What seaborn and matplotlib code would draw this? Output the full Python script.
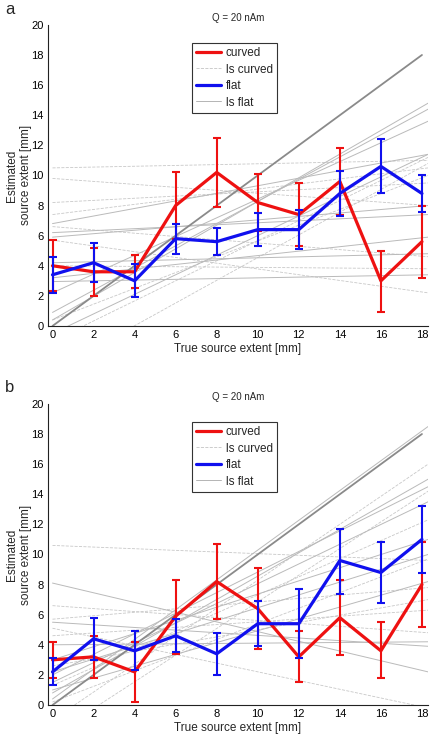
import pandas as pd
import matplotlib.pyplot as plt
import seaborn as sns
import numpy as np
from matplotlib.lines import Line2D

# true source extent [mm]
extent = [0, 2, 4, 6, 8, 10, 12, 14, 16, 18]

# panel a
a_curved = [4.0, 3.6, 3.6, 8.0, 10.2, 8.2, 7.4, 9.6, 3.0, 5.6]
a_curved_lo = [2.3, 2.0, 2.5, 5.8, 7.9, 6.3, 5.3, 7.4, 0.9, 3.2]
a_curved_hi = [5.7, 5.2, 4.7, 10.2, 12.5, 10.1, 9.5, 11.8, 5.0, 8.0]
a_flat = [3.4, 4.2, 3.0, 5.8, 5.6, 6.4, 6.4, 8.8, 10.6, 8.8]
a_flat_lo = [2.2, 2.9, 1.9, 4.8, 4.7, 5.3, 5.1, 7.3, 8.8, 7.6]
a_flat_hi = [4.6, 5.5, 4.1, 6.8, 6.5, 7.5, 7.7, 10.3, 12.4, 10.0]
# least squares fits: value at left edge (x=0) and right edge of axis
a_ls_curved_start = [10.5, 9.8, 8.2, 7.4, 6.6, 5.7, 4.0, -1.0, -3.0, 0.4]
a_ls_curved_end = [11.0, 8.0, 9.5, 10.5, 4.6, 2.2, 3.8, 11.2, 10.8, 10.0]
a_ls_flat_start = [6.8, 5.9, 2.95, 2.2, 0.9, 0.4, 4.2, 3.2, -0.5, 6.2]
a_ls_flat_end = [11.4, 8.0, 3.4, 13.6, 14.4, 14.8, 4.8, 5.9, 11.4, 7.4]

# panel b
b_curved = [3.0, 3.2, 2.2, 5.9, 8.2, 6.4, 3.2, 5.8, 3.6, 8.0]
b_curved_lo = [1.8, 1.8, 0.2, 3.4, 5.7, 3.7, 1.5, 3.3, 1.8, 5.2]
b_curved_hi = [4.2, 4.6, 4.2, 8.3, 10.7, 9.1, 4.9, 8.3, 5.5, 10.8]
b_flat = [2.2, 4.4, 3.6, 4.6, 3.4, 5.4, 5.4, 9.6, 8.8, 11.0]
b_flat_lo = [1.3, 3.0, 2.3, 3.5, 2.0, 3.9, 3.1, 7.4, 6.8, 8.8]
b_flat_hi = [3.1, 5.8, 4.9, 5.7, 4.8, 6.9, 7.7, 11.7, 10.8, 13.2]
b_ls_curved_start = [10.6, 6.6, 5.7, 5.1, 2.6, 1.3, -1.0, 0.2, 4.6, -2.0]
b_ls_curved_end = [9.6, 4.8, 7.8, -0.2, 7.0, 12.3, 16.0, 9.7, 6.3, 14.2]
b_ls_flat_start = [8.1, 5.5, 0.4, 0.8, 2.0, 1.5, 4.0, 3.0, 2.2, 1.0]
b_ls_flat_end = [2.2, 3.9, 18.5, 15.0, 14.5, 13.5, 4.2, 11.0, 10.0, 8.2]

X_LEFT, X_RIGHT = -0.22, 18.3


def fits_frame(starts, ends):
    rows = []
    for i, (s, e) in enumerate(zip(starts, ends)):
        rows.append({'fit': i, 'x': 0, 'y': s})
        rows.append({'fit': i, 'x': X_RIGHT, 'y': e})
    return pd.DataFrame(rows)


def draw_panel(ax, curved, c_lo, c_hi, flat, f_lo, f_hi,
               lsc_s, lsc_e, lsf_s, lsf_e):
    sns.lineplot(data=fits_frame(lsc_s, lsc_e), x='x', y='y', units='fit',
                 estimator=None, color='#c8c8c8', lw=0.6, ls='--', ax=ax, legend=False)
    sns.lineplot(data=fits_frame(lsf_s, lsf_e), x='x', y='y', units='fit',
                 estimator=None, color='#bababa', lw=0.7, ax=ax, legend=False)
    sns.lineplot(x=[0, 18], y=[0, 18], color='#8a8a8a', lw=1.3, ax=ax)

    for vals, lo, hi, col in [(curved, c_lo, c_hi, '#ee1111'), (flat, f_lo, f_hi, '#1010ee')]:
        v = np.array(vals)
        err = [v - np.array(lo), np.array(hi) - v]
        ax.errorbar(extent, v, yerr=err, fmt='none', ecolor=col, elinewidth=1.5,
                    capsize=3, capthick=1.5)
        sns.lineplot(x=extent, y=vals, color=col, lw=2.3, ax=ax)

    ax.set_xlim(X_LEFT, X_RIGHT)
    ax.set_ylim(0, 20)
    ax.set_xticks(extent)
    ax.set_yticks(range(0, 21, 2))
    ax.tick_params(direction='in', length=3, width=0.7, labelsize=8, pad=3, colors='black')
    for side in ['top', 'right']:
        ax.spines[side].set_visible(False)
    for side in ['left', 'bottom']:
        ax.spines[side].set_color('#222222')
        ax.spines[side].set_linewidth(0.8)
    ax.set_xlabel('True source extent [mm]', fontsize=8.5, labelpad=2)
    ax.set_ylabel('Estimated\nsource extent [mm]', fontsize=8.5, linespacing=1.2)
    ax.yaxis.set_label_coords(-0.043, 0.5)
    ax.set_title('Q = 20 nAm', fontsize=7, pad=3)

    handles = [Line2D([], [], color='#ee1111', lw=2.3),
               Line2D([], [], color='#c4c4c4', lw=0.6, ls='--'),
               Line2D([], [], color='#1010ee', lw=2.3),
               Line2D([], [], color='#b4b4b4', lw=0.7)]
    leg = ax.legend(handles, ['curved', 'ls curved', 'flat', 'ls flat'],
                    loc='upper left', bbox_to_anchor=(0.379, 0.94), borderaxespad=0,
                    fontsize=8.5, fancybox=False, framealpha=1, edgecolor='#333333',
                    handlelength=2.1, handletextpad=0.4, labelspacing=0.38,
                    borderpad=0.35)
    leg.get_frame().set_linewidth(0.8)


sns.set_style('white')
plt.rcParams['font.family'] = ['Liberation Sans', 'DejaVu Sans']

fig = plt.figure(figsize=(4.3, 7.38), dpi=100)
ax_a = fig.add_axes([0.1116, 0.5583, 0.884, 0.408])
ax_b = fig.add_axes([0.1116, 0.0447, 0.884, 0.408])

draw_panel(ax_a, a_curved, a_curved_lo, a_curved_hi, a_flat, a_flat_lo, a_flat_hi,
           a_ls_curved_start, a_ls_curved_end, a_ls_flat_start, a_ls_flat_end)
draw_panel(ax_b, b_curved, b_curved_lo, b_curved_hi, b_flat, b_flat_lo, b_flat_hi,
           b_ls_curved_start, b_ls_curved_end, b_ls_flat_start, b_ls_flat_end)

fig.text(5 / 430, 1 - 10 / 738, 'a', fontsize=12, ha='left', va='center')
fig.text(5 / 430, 1 - 388 / 738, 'b', fontsize=12, ha='left', va='center')

fig.savefig('out.png', dpi=100)
